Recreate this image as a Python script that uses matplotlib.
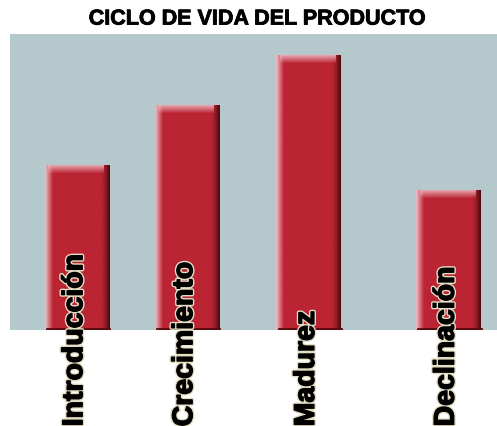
import numpy as np
import matplotlib.pyplot as plt
import matplotlib.patheffects as pe

etapas = ["Introducción", "Crecimiento", "Madurez", "Declinación"]
valores = [3.3, 4.5, 5.5, 2.8]
posiciones = [0.0, 1.4, 2.95, 4.73]

fig = plt.figure(figsize=(4.97, 4.27), dpi=100)
ax = fig.add_axes([10 / 497, 1 - 331 / 427, 487 / 497, 296 / 427])
ax.set_facecolor("#b5c9cd")

bars = ax.bar(posiciones, valores, width=0.82, color="#bb2533", zorder=2)
ax.set_xlim(-0.85, 5.35)
ax.set_ylim(0, 5.93)

# relieve de las barras: brillo a la izquierda y arriba, sombra a la derecha
grad = np.linspace(0, 1, 64)
base = np.array([0.733, 0.145, 0.2])
luz = np.array([0.93, 0.72, 0.75])
osc = np.array([0.30, 0.04, 0.06])
for b in bars:
    x0, y0 = b.get_x(), b.get_y()
    w, h = b.get_width(), b.get_height()
    img = np.zeros((8, 64, 4))
    for j, t in enumerate(grad):
        if t < 0.12:
            c = luz + (base - luz) * (t / 0.12)
        elif t > 0.86:
            c = base + (osc - base) * ((t - 0.86) / 0.14) ** 1.5
        else:
            c = base
        img[:, j, :3] = c
        img[:, j, 3] = 1
    ax.imshow(img, extent=[x0, x0 + w, y0, y0 + h], aspect="auto", zorder=3)
    top = np.zeros((8, 1, 4))
    for i in range(8):
        top[i, 0, :3] = luz
        top[i, 0, 3] = 0.85 * (1 - i / 8)
    ax.imshow(top, extent=[x0 + 0.05, x0 + w - 0.06, y0 + h - 0.16, y0 + h],
              aspect="auto", zorder=4)
    ax.plot([x0 + 0.03, x0 + w], [y0 + 0.02, y0 + 0.02], color="#5a0a10", lw=2, zorder=4)

ax.set_xticks([])
ax.set_yticks([])
for s in ax.spines.values():
    s.set_visible(False)

for b, e in zip(bars, etapas):
    ax.text(b.get_x() + b.get_width() / 2 - 0.02, -1.93, e,
            rotation=90, ha="center", va="bottom", fontsize=20.5, fontweight="bold",
            family="Liberation Sans", color="black", zorder=6, clip_on=False,
            path_effects=[pe.withStroke(linewidth=3, foreground="#e4dfc4"),
                          pe.withStroke(linewidth=1, foreground="black")])

fig.text(0.516, 0.953, "CICLO DE VIDA DEL PRODUCTO", ha="center", va="center",
         fontsize=15.5, fontweight="bold", family="Liberation Sans",
         path_effects=[pe.withStroke(linewidth=0.6, foreground="black")])

fig.savefig("out.png", dpi=100)
